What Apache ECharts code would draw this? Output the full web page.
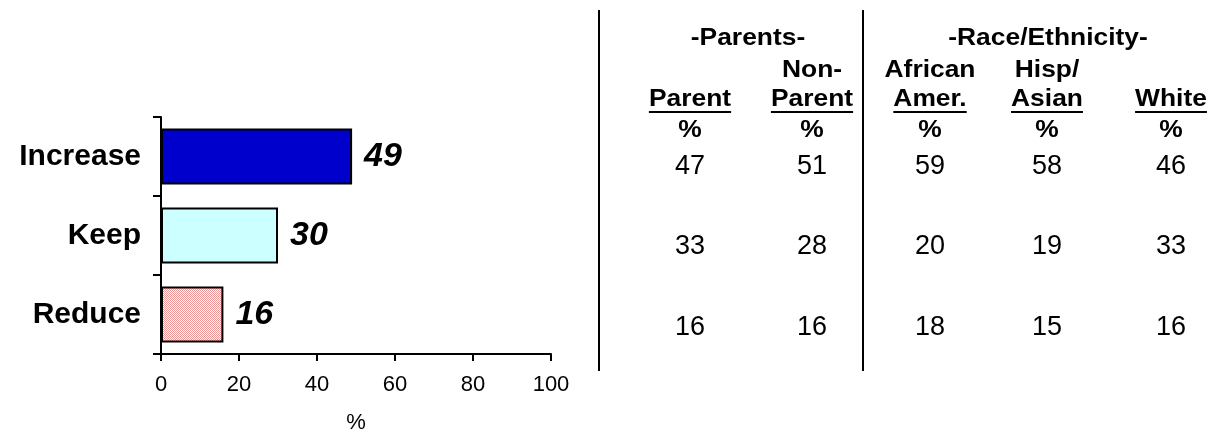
<!DOCTYPE html>
<html>
<head>
<meta charset="utf-8">
<script src="https://cdn.jsdelivr.net/npm/echarts@6/dist/echarts.min.js"></script>
<style>
  html, body { margin: 0; padding: 0; background: #fff; }
  #chart { width: 1209px; height: 431px; }
</style>
</head>
<body>
<div id="chart"></div>
<script>
// Overall opinion bars
const categories = ['Increase', 'Keep', 'Reduce'];
const values = [49, 30, 16];
const xTicks = [0, 20, 40, 60, 80, 100];

// Breakdown table
const groupHeaders = ['-Parents-', '-Race/Ethnicity-'];
const columnTopLines = ['', 'Non-', 'African', 'Hisp/', ''];
const columnNames = ['Parent', 'Parent', 'Amer.', 'Asian', 'White'];
const parentVals = [47, 33, 16];
const nonParentVals = [51, 28, 16];
const africanAmerVals = [59, 20, 18];
const hispAsianVals = [58, 19, 15];
const whiteVals = [46, 33, 16];

const FONT = "'Liberation Sans', Arial, Helvetica, sans-serif";

// fine pink checkerboard used for the "Reduce" bar
function dotPattern() {
  const c = document.createElement('canvas');
  c.width = 2; c.height = 2;
  const g = c.getContext('2d');
  g.fillStyle = '#ffffff';
  g.fillRect(0, 0, 2, 2);
  g.fillStyle = '#f09595';
  g.fillRect(0, 0, 1, 1);
  g.fillRect(1, 1, 1, 1);
  return c;
}

function textWidth(str, font) {
  const g = document.createElement('canvas').getContext('2d');
  g.font = font;
  return g.measureText(str).width;
}

const barFills = ['#0000cc', '#ccffff', { image: dotPattern(), repeat: 'repeat' }];

// table layout
const colX = [690, 812, 930, 1047, 1171];
const groupX = [748, 1048];
const rowY = [167, 247, 328];
const tableColumns = [parentVals, nonParentVals, africanAmerVals, hispAsianVals, whiteVals];

const HEAD_SIZE = 24;
const HEAD_STRETCH = 1.1;
const headerFont = { fontFamily: FONT, fontSize: HEAD_SIZE, fontWeight: 'bold', fill: '#000' };
const graphics = [];

function headerText(str, x, y) {
  return {
    type: 'text', x: x, y: y, scaleX: HEAD_STRETCH,
    style: Object.assign({ text: str, align: 'center', verticalAlign: 'middle' }, headerFont)
  };
}

// divider lines
[599, 863].forEach(function (x) {
  graphics.push({
    type: 'line',
    shape: { x1: x, y1: 10, x2: x, y2: 371 },
    style: { stroke: '#000', lineWidth: 2 }
  });
});

groupHeaders.forEach(function (t, i) {
  graphics.push(headerText(t, groupX[i], 38));
});

columnNames.forEach(function (name, i) {
  if (columnTopLines[i]) {
    graphics.push(headerText(columnTopLines[i], colX[i], 70));
  }
  graphics.push(headerText(name, colX[i], 99));
  const w = textWidth(name, 'bold ' + HEAD_SIZE + 'px ' + FONT) * HEAD_STRETCH;
  graphics.push({
    type: 'line',
    shape: { x1: colX[i] - w / 2, y1: 112, x2: colX[i] + w / 2, y2: 112 },
    style: { stroke: '#000', lineWidth: 2 }
  });
  graphics.push(headerText('%', colX[i], 130));
  tableColumns[i].forEach(function (v, r) {
    graphics.push({
      type: 'text', x: colX[i], y: rowY[r],
      style: {
        text: String(v), align: 'center', verticalAlign: 'middle',
        fontFamily: FONT, fontSize: 27, fill: '#000'
      }
    });
  });
});

const chart = echarts.init(document.getElementById('chart'), null, { renderer: 'canvas' });
chart.setOption({
  animation: false,
  backgroundColor: '#ffffff',
  grid: {
    left: 161, right: 658, top: 117, bottom: 77,
    containLabel: false,
    outerBoundsMode: 'none'
  },
  xAxis: {
    type: 'value',
    min: xTicks[0],
    max: xTicks[xTicks.length - 1],
    interval: xTicks[1] - xTicks[0],
    name: '%',
    nameLocation: 'middle',
    nameGap: 58,
    nameTextStyle: { fontFamily: FONT, fontSize: 22, color: '#000' },
    axisLine: { show: true, lineStyle: { color: '#000', width: 2 } },
    axisTick: { show: true, length: 7, lineStyle: { color: '#000', width: 2 } },
    axisLabel: { fontFamily: FONT, fontSize: 22, color: '#000', margin: 20 },
    splitLine: { show: false }
  },
  yAxis: {
    type: 'category',
    data: categories,
    inverse: true,
    axisLine: { show: true, lineStyle: { color: '#000', width: 2 } },
    axisTick: { show: true, length: 8, lineStyle: { color: '#000', width: 2 } },
    axisLabel: { fontFamily: FONT, fontSize: 30, fontWeight: 'bold', color: '#000', margin: 20 }
  },
  series: [{
    type: 'bar',
    data: values.map(function (v, i) {
      return { value: v, itemStyle: { color: barFills[i] } };
    }),
    barWidth: 56,
    itemStyle: { borderColor: '#000', borderWidth: 2 },
    label: {
      show: true,
      position: 'right',
      distance: 12,
      fontFamily: FONT,
      fontSize: 34,
      fontWeight: 'bold',
      fontStyle: 'italic',
      color: '#000'
    }
  }],
  graphic: graphics
});
</script>
</body>
</html>
